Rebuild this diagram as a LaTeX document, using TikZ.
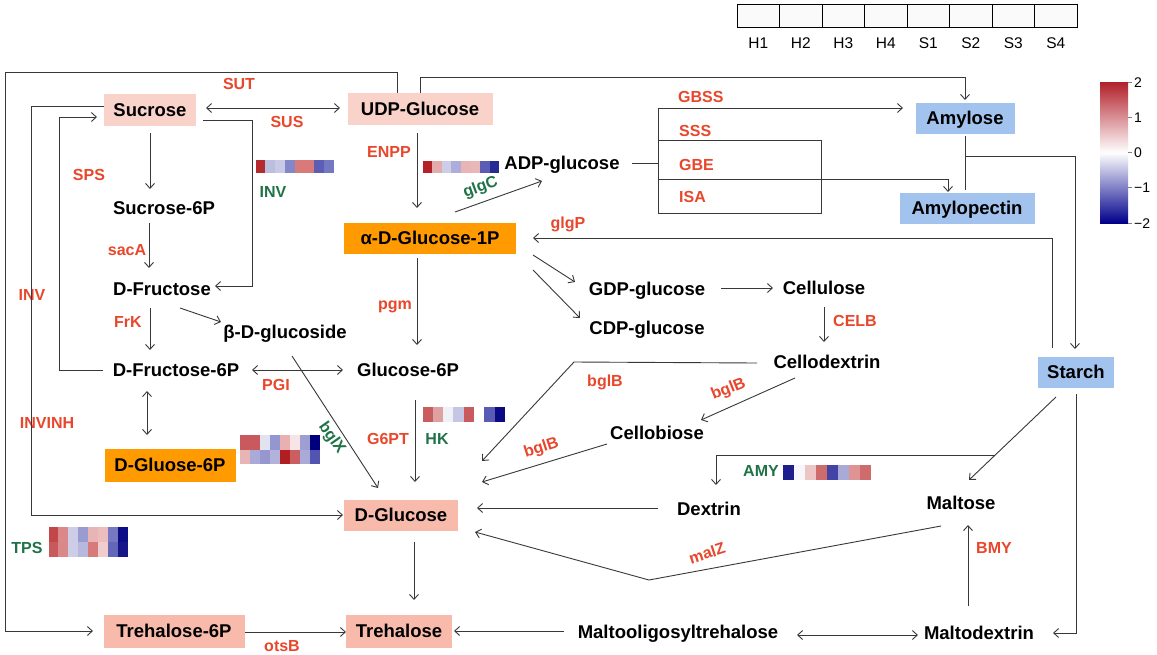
\documentclass[tikz,border=0pt]{standalone}
\usepackage{fontspec}
\setmainfont{Liberation Sans}
\usetikzlibrary{arrows.meta,calc}
\definecolor{pinkL}{HTML}{F9D2CA}
\definecolor{pinkD}{HTML}{F7BAAB}
\definecolor{orangeB}{HTML}{FF9A00}
\definecolor{blueB}{HTML}{A3C3EF}
\definecolor{enzred}{HTML}{E8472C}
\definecolor{enzgreen}{HTML}{1F7347}
\definecolor{lncol}{HTML}{383838}
\definecolor{cbtop}{HTML}{B2202A}
\definecolor{cbbot}{HTML}{00008B}
\newcommand{\hmcells}[5]{%
  \foreach \hc [count=\hi from 0] in {#5}{%
    \edef\hmtmp{\noexpand\definecolor{hmc}{HTML}{\hc}}\hmtmp
    \fill[hmc] ({#1+\hi*#3},#2) rectangle ++(#3,#4);
  }%
}
\tikzset{
  met/.style={font=\bfseries\fontsize{18.5}{22}\selectfont, inner sep=0pt, text height=13.2pt, text depth=0pt},
  mbox/.style={met, fill=#1, minimum height=32pt},
  enz/.style={text=enzred, font=\bfseries\fontsize{16}{19}\selectfont, inner sep=0pt, text height=11.5pt, text depth=0pt},
  gen/.style={enz, text=enzgreen},
  ln/.style={draw=lncol, line width=0.9pt},
  arr/.style={ln, ->},
  darr/.style={ln, <->},
  >={Straight Barb[length=5pt,width=9pt]},
  hdr/.style={font=\fontsize{15.5}{18}\selectfont, inner sep=0pt, text height=11.1pt, text depth=0pt},
  cbl/.style={font=\fontsize{14}{16}\selectfont, inner sep=0pt, anchor=west, text height=10pt, text depth=0pt},
}
\begin{document}
\begin{tikzpicture}[x=1pt,y=-1pt]
\fill[white] (0,0) rectangle (1157,654);
\useasboundingbox (0,0) rectangle (1157,654);

% header
\foreach \lab [count=\i from 0] in {H1,H2,H3,H4,S1,S2,S3,S4}{
  \node[draw=black, line width=0.8pt, fill=black!2, minimum width=42.5pt, minimum height=23pt, inner sep=0pt] (hc\i) at ({758.25+42.5*\i},15.5) {};
  \node[hdr] (hl\i) at ({758.25+42.5*\i},43) {\lab};
}
% colour bar
\shade[top color=cbtop, bottom color=cbbot, middle color=white] (1100,82) rectangle (1128,223);
\foreach \v/\yy [count=\i] in {2/82,1/117.25,0/152.5,−1/187.75,−2/223}{
  \draw[black!50, line width=0.6pt] (1128,\yy) -- (1132,\yy);
  \node[cbl] (cb\i) at (1134,\yy) {\v};
}

% boxes
\node[mbox=pinkL, minimum width=92pt] (suc) at (150,110) {Sucrose};
\node[mbox=pinkL, minimum width=145pt] (udp) at (420,109) {UDP-Glucose};
\node[mbox=orangeB, minimum width=172pt, minimum height=31pt] (adg1p) at (430,238) {α-D-Glucose-1P};
\node[mbox=blueB, minimum width=99pt, minimum height=31pt] (amylose) at (965,118) {Amylose};
\node[mbox=blueB, minimum width=135pt, minimum height=31pt] (amylopectin) at (967,208) {Amylopectin};
\node[mbox=blueB, minimum width=76pt, minimum height=31pt] (starch) at (1076,372) {Starch};
\node[mbox=orangeB, minimum width=131pt, minimum height=33pt] (dg6p) at (170,465) {D-Gluose-6P};
\node[mbox=pinkD, minimum width=114pt, minimum height=31pt] (dglc) at (401,515) {D-Glucose};
\node[mbox=pinkD, minimum width=106pt, minimum height=33pt] (treh) at (399,631) {Trehalose};
\node[mbox=pinkD, minimum width=141pt, minimum height=33pt] (treh6p) at (174,631) {Trehalose-6P};

% plain metabolites
\node[met] (suc6p) at (164,208) {Sucrose-6P};
\node[met] (dfru) at (162,289) {D-Fructose};
\node[met] (bdg) at (285,332) {β-D-glucoside};
\node[met] (dfru6p) at (176,370) {D-Fructose-6P};
\node[met] (g6p) at (408,370) {Glucose-6P};
\node[met] (adpg) at (562,163) {ADP-glucose};
\node[met] (gdpg) at (647,289) {GDP-glucose};
\node[met] (cdpg) at (647,328) {CDP-glucose};
\node[met] (cellulose) at (824,288) {Cellulose};
\node[met] (cellodextrin) at (827,362) {Cellodextrin};
\node[met] (cellobiose) at (657,433) {Cellobiose};
\node[met] (dextrin) at (709,509) {Dextrin};
\node[met] (maltose) at (961,503) {Maltose};
\node[met] (maltooligo) at (678,632) {Maltooligosyltrehalose};
\node[met] (maltodextrin) at (979,633) {Maltodextrin};

% enzyme labels
\node[enz] (eSUT) at (239,84) {SUT};
\node[enz] (eSUS) at (287,122) {SUS};
\node[enz] (eSPS) at (89,175) {SPS};
\node[enz] (esacA) at (127,250) {sacA};
\node[enz] (eINV) at (32,295) {INV};
\node[enz] (eENPP) at (389,152) {ENPP};
\node[enz, anchor=west] (eGBSS) at (678,97) {GBSS};
\node[enz, anchor=west] (eSSS) at (679,131) {SSS};
\node[enz, anchor=west] (eGBE) at (679,165) {GBE};
\node[enz, anchor=west] (eISA) at (679,197) {ISA};
\node[enz] (eglgP) at (568,223) {glgP};
\node[enz] (eFrK) at (128,322) {FrK};
\node[enz] (epgm) at (395,304) {pgm};
\node[enz] (ePGI) at (276,385) {PGI};
\node[enz] (eCELB) at (855,321) {CELB};
\node[enz] (ebglB1) at (605,381) {bglB};
\node[enz, rotate=22] (ebglB2) at (728,388) {bglB};
\node[enz, rotate=18] (ebglB3) at (541,447) {bglB};
\node[enz] (eINVINH) at (47,423) {INVINH};
\node[enz] (eG6PT) at (388,439) {G6PT};
\node[enz, rotate=18] (emalZ) at (707,553) {malZ};
\node[enz] (eBMY) at (994,548) {BMY};
\node[enz] (eotsB) at (282,646) {otsB};
\node[gen] (gINV) at (273,192) {INV};
\node[gen, rotate=20] (gglgC) at (480,186) {glgC};
\node[gen, rotate=-55] (gbglX) at (333,437) {bglX};
\node[gen] (gHK) at (437,439) {HK};
\node[gen] (gAMY) at (761,471) {AMY};
\node[gen] (gTPS) at (27,548) {TPS};

% heatmaps
\hmcells{255.5}{160}{9.8}{13}{B52A2F,BCBEE0,C8C9E6,8386C8,D87A7A,D87A7A,5C5EB5,7477C2}
\hmcells{422.5}{161}{9.6}{12}{B42227,E5AAAA,CDCDE8,ACADDA,E8B4B4,E8B8B8,5C5CB5,252A95}
\hmcells{239.5}{435}{10}{14.5}{C85A5E,C85A5E,E2E3F1,9496CF,E8B0B0,F7E4E4,9D9FD2,00007F}
\hmcells{239.5}{449.5}{10}{14.5}{E8B5B6,A9AAD8,9597CE,B2B3DB,B01E22,CA5E60,A9AAD8,5354AF}
\hmcells{422.5}{407}{10.3}{15}{C95C5F,DFA0A1,F0F0F7,C5C6E3,C95A5D,FFFFFF,5A5BB4,0A0A85}
\hmcells{783}{465}{11}{15}{1E1E8C,F7F7FB,EEC5C5,CE6B6D,4343A5,A9AAD8,DE9495,CE6B6D}
\hmcells{48.5}{527}{9.9}{15}{C2464A,DA8889,CDCDE8,9A9BD0,E8B5B6,EBBDBD,7678C2,0D0D87}
\hmcells{48.5}{542}{9.9}{15}{C85A5E,DA8889,CDCDE8,B7B8DD,D87A7C,F0CCCC,6466B8,161688}

% connectors
\draw[arr] ($(udp)+(-23,-16)$) |- (5,72) |- ($(treh6p)+(-81,0)$);
\draw[arr] ($(suc)+(-46,-4)$) -| (31,515) -- ($(dglc)+(-58,0)$);
\draw[arr] ($(dfru6p)+(-73,0)$) -| (59,117) -- ($(suc)+(-53,7)$);
\draw[darr] ($(suc)+(56,-2)$) -- ($(udp)+(-80,-1)$);
\draw[arr] ($(suc)+(0,23)$) -- ($(suc6p)+(-14,-19)$);
\draw[arr] ($(suc6p)+(-15,15)$) -- ($(dfru)+(-13,-21)$);
\draw[arr] ($(suc)+(53,10)$) -| (252,286) -- ($(dfru)+(53,-3)$);
\draw[arr] ($(udp)+(-3,24)$) -- ($(adg1p)+(-13,-30)$);
\draw[arr] ($(udp)+(0,-16)$) |- (965,77) -- ($(amylose)+(0,-18)$);
\draw[arr] ($(adg1p)+(25,-26)$) -- ($(adpg)+(-20,18)$);
\draw[ln] ($(adpg)+(70,0)$) -- (658,163);
\draw[ln] (658,108) -- (658,213) -- (821,213) -- (821,140) -- (658,140);
\draw[arr] (658,108) -- ($(amylose)+(-62,-10)$);
\draw[arr] (658,179) -| ($(amylopectin)+(-19,-16)$);
\draw[ln] ($(amylose)+(0,18)$) -- ($(amylopectin)+(-2,-18)$);
\draw[arr] ($(amylose)+(0,38)$) -| ($(starch)+(-1,-23)$);
\draw[arr] ($(starch)+(-24,-24)$) |- ($(adg1p)+(103,0)$);
\draw[arr] ($(adg1p)+(103,17)$) -- ($(gdpg)+(-72,-7)$);
\draw[arr] ($(adg1p)+(103,32)$) -- ($(cdpg)+(-67,-10)$);
\draw[arr] ($(adg1p)+(-13,20)$) -- ($(g6p)+(9,-25)$);
\draw[arr] ($(gdpg)+(74,-1)$) -- ($(cellulose)+(-51,0)$);
\draw[arr] ($(cellulose)+(0,19)$) -- ($(cellodextrin)+(-3,-20)$);
\draw[arr] ($(cellodextrin)+(-70,1)$) -- (574,362) -- ($(dglc)+(81,-54)$);
\draw[arr] ($(cellodextrin)+(-32,16)$) -- ($(cellobiose)+(44,-13)$);
\draw[arr] ($(cellobiose)+(-50,11)$) -- ($(dglc)+(81,-33)$);
\draw[arr] ($(dextrin)+(-51,-1)$) -- ($(dglc)+(76,-7)$);
\draw[arr] ($(starch)+(-20,25)$) -- ($(maltose)+(8,-23)$);
\draw[arr] (995,455) -| ($(dextrin)+(7,-24)$);
\draw[arr] ($(starch)+(0,22)$) |- ($(maltodextrin)+(74,0)$);
\draw[arr] ($(maltodextrin)+(-11,-27)$) -- ($(maltose)+(7,22)$);
\draw[arr] ($(maltose)+(-20,23)$) -- (649,580) -- ($(dglc)+(74,17)$);
\draw[arr] ($(dglc)+(13,27)$) -- ($(treh)+(15,-31)$);
\draw[arr] ($(treh6p)+(71,1)$) -- ($(treh)+(-53,1)$);
\draw[arr] ($(maltooligo)+(-114,-1)$) -- ($(treh)+(55,0)$);
\draw[darr] ($(maltooligo)+(119,3)$) -- ($(maltodextrin)+(-61,2)$);
\draw[arr] ($(dfru)+(-12,19)$) -- ($(dfru6p)+(-26,-20)$);
\draw[arr] ($(dfru)+(18,19)$) -- ($(bdg)+(-64,-10)$);
\draw[darr] ($(dfru6p)+(76,0)$) -- ($(g6p)+(-65,0)$);
\draw[darr] ($(dfru6p)+(-29,21)$) -- ($(dg6p)+(-23,-30)$);
\draw[arr] ($(bdg)+(7,24)$) -- ($(dglc)+(-23,-27)$);
\draw[arr] ($(g6p)+(7,30)$) -- ($(dglc)+(14,-33)$);
\end{tikzpicture}
\end{document}
